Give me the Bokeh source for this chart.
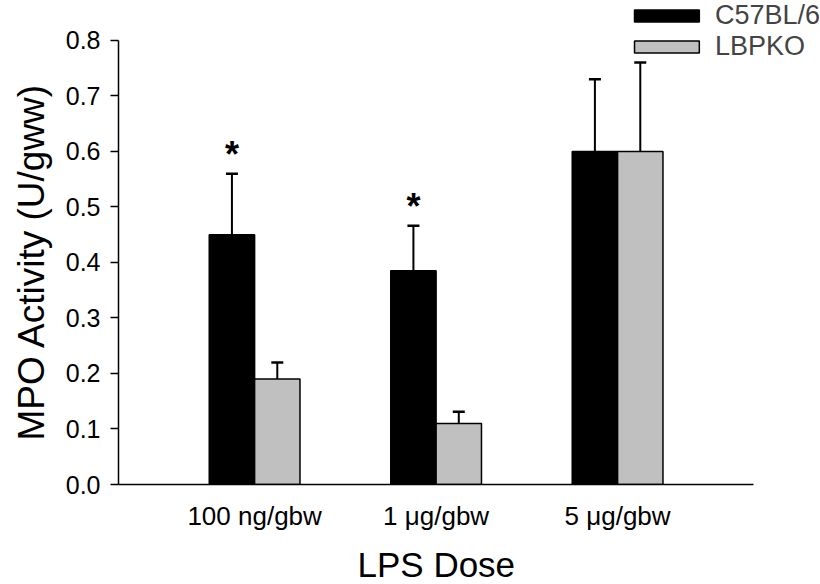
from bokeh.plotting import figure
from bokeh.models import (ColumnDataSource, Whisker, TeeHead, Legend, LegendItem, FixedTicker,
                          Range1d, Title)
from bokeh.transform import dodge
from bokeh.core.properties import value
from bokeh.embed import file_html
from bokeh.resources import INLINE

# ---- data ----
doses = ["100 ng/gbw", "1 \u03bcg/gbw", "5 \u03bcg/gbw"]
dose_pos = [1, 2, 3]
c57_mean = [0.45, 0.385, 0.60]
c57_err = [0.11, 0.081, 0.13]
lbpko_mean = [0.19, 0.11, 0.60]
lbpko_err = [0.03, 0.021, 0.16]
significance = ["*", "*", ""]
y_ticks = [0.0, 0.1, 0.2, 0.3, 0.4, 0.5, 0.6, 0.7, 0.8]
x_label = "LPS Dose"
y_label = "MPO Activity (U/gww)"

FONT = "Liberation Sans"
BLACK = "#000000"
GRAY = "#C0C0C0"

src = ColumnDataSource(dict(
    x=dose_pos,
    c57=c57_mean,
    c57_up=[m + e for m, e in zip(c57_mean, c57_err)],
    lb=lbpko_mean,
    lb_up=[m + e for m, e in zip(lbpko_mean, lbpko_err)],
    sig=significance,
))

p = figure(width=820, height=584, output_backend="svg", toolbar_location=None,
           x_range=Range1d(0.25, 4.118), y_range=Range1d(0, 0.8719),
           min_border_left=118, min_border_right=0, min_border_top=0, min_border_bottom=99)

bw = 0.25
r1 = p.vbar(x=dodge("x", -bw / 2), top="c57", width=bw, source=src,
            fill_color=BLACK, line_color=BLACK, line_width=1.5)
r2 = p.vbar(x=dodge("x", bw / 2), top="lb", width=bw, source=src,
            fill_color=GRAY, line_color=BLACK, line_width=1.5)

for xoff, lo, hi in [(-bw / 2, "c57", "c57_up"), (bw / 2, "lb", "lb_up")]:
    w = Whisker(source=src, base=dodge("x", xoff), lower=lo, upper=hi, dimension="height",
                line_color=BLACK, line_width=2, lower_head=None,
                upper_head=TeeHead(size=12, line_color=BLACK, line_width=2.5))
    p.add_layout(w)

p.text(x=dodge("x", -bw / 2), y="c57_up", text="sig", source=src,
       text_font=value(FONT), text_font_size="36px", text_font_style="bold",
       text_align="center", text_baseline="bottom", y_offset=1, text_color=BLACK)

legend = Legend(items=[LegendItem(label="C57BL/6", renderers=[r1]),
                       LegendItem(label="LBPKO", renderers=[r2])],
                location="top_right", margin=0, padding=0, spacing=0,
                glyph_width=81, glyph_height=15, label_standoff=8,
                label_text_font=FONT, label_text_font_size="27px",
                label_height=14, border_line_color=None, background_fill_alpha=0)
p.add_layout(legend)

p.xaxis.ticker = FixedTicker(ticks=dose_pos)
p.xaxis.major_label_overrides = {pos: lab for pos, lab in zip(dose_pos, doses)}
p.xaxis.bounds = (0.25, 3.75)
p.xaxis.major_tick_line_color = None
p.xaxis.minor_tick_line_color = None
p.xaxis.major_tick_out = 0
p.xaxis.major_tick_in = 0
p.xaxis.major_label_standoff = 16
p.xaxis.major_label_text_font_size = "26px"

p.yaxis.ticker = FixedTicker(ticks=y_ticks)
p.yaxis.major_label_overrides = {t: f"{t:.1f}" for t in y_ticks}
p.yaxis.bounds = (0, 0.8)
p.yaxis.minor_tick_line_color = None
p.yaxis.major_tick_in = 0
p.yaxis.major_tick_out = 8
p.yaxis.major_label_standoff = 10
p.yaxis.major_label_text_font_size = "25px"

for ax in (p.xaxis, p.yaxis):
    ax.axis_line_color = BLACK
    ax.axis_line_width = 1.5
    ax.major_tick_line_width = 1.5
    ax.major_label_text_font = FONT
    ax.major_label_text_color = BLACK

# axis titles, aligned with the axis extents (not the enlarged frame)
p.add_layout(Title(text=x_label, align="left", offset=239, vertical_align="middle",
                   text_font=FONT, text_font_size="35px", text_font_style="normal",
                   text_color=BLACK, standoff=0,
                   padding=dict(left=0, right=0, top=10, bottom=0)), "below")
p.add_layout(Title(text=y_label, align="left", offset=44, vertical_align="middle",
                   text_font=FONT, text_font_size="37px", text_font_style="normal",
                   text_color=BLACK, standoff=0,
                   padding=dict(left=0, right=0, top=0, bottom=20)), "left")

p.xgrid.grid_line_color = None
p.ygrid.grid_line_color = None
p.outline_line_color = None

open("out.html", "w").write(file_html(p, INLINE))
